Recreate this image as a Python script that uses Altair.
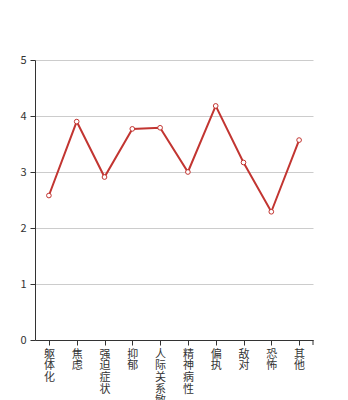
import altair as alt
import pandas as pd

categories = ["躯体化", "焦虑", "强迫症状", "抑郁", "人际关系敏感", "精神病性", "偏执", "敌对", "恐怖", "其他"]
values = [2.58, 3.90, 2.91, 3.77, 3.79, 3.00, 4.18, 3.17, 2.29, 3.57]

df = pd.DataFrame({"cat": categories, "val": values})

RED = "#c23531"
FONT = "Noto Sans CJK SC"

x = alt.X("cat:N", sort=categories, title=None,
          scale=alt.Scale(paddingInner=0, paddingOuter=0),
          axis=alt.Axis(bandPosition=0, labelAngle=0,
                        labelExpr="split(datum.label, '')", labelBaseline="top",
                        labelAlign="center", labelLineHeight=11.7, labelFontSize=11,
                        labelFont=FONT, labelColor="#333", labelPadding=3,
                        tickSize=5, tickColor="#333", domainColor="#333",
                        grid=False, labelFlush=False, labelOverlap=False))
y = alt.Y("val:Q", title=None, scale=alt.Scale(domain=[0, 5], nice=False),
          axis=alt.Axis(values=[0, 1, 2, 3, 4, 5], labelFontSize=11, labelFont=FONT,
                        labelColor="#333", tickSize=5, tickColor="#333",
                        domainColor="#333", gridColor="#cccccc", labelPadding=4))

base = alt.Chart(df)
line = base.mark_line(color=RED, strokeWidth=2).encode(x=x, y=y)
pts = base.mark_point(shape="circle", filled=True, fill="white", stroke=RED,
                      strokeWidth=1, size=22, opacity=1).encode(x=x, y=y)
endtick = alt.Chart(pd.DataFrame({"a": [0]})).mark_rule(color="#333").encode(
    x=alt.value(278), y=alt.value(280), y2=alt.value(285))

chart = alt.layer(line, pts, endtick).properties(
    width=278, height=280,
    background="white",
    autosize=alt.AutoSizeParams(type="none"),
    padding={"left": 35, "top": 60, "right": 35, "bottom": 60},
).configure_view(stroke="transparent", strokeWidth=0)

chart.save("out.html", embed_options={"renderer": "svg", "actions": False})
